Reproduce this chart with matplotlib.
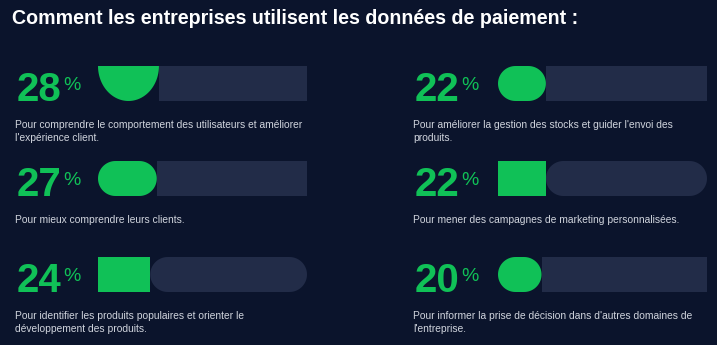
import numpy as np
import matplotlib.pyplot as plt
from matplotlib.patches import Polygon, Rectangle

# share of companies using payment data for each purpose
values = [28, 27, 24, 22, 22, 20]
descriptions = [
    "Pour comprendre le comportement des utilisateurs et améliorer\nl'expérience client.",
    "Pour mieux comprendre leurs clients.",
    "Pour identifier les produits populaires et orienter le\ndéveloppement des produits.",
    "Pour améliorer la gestion des stocks et guider l'envoi des\nproduits.",
    "Pour mener des campagnes de marketing personnalisées.",
    "Pour informer la prise de décision dans d'autres domaines de\nl'entreprise.",
]
# (green shape, track shape) for each row
shapes = [("half", "rect"), ("pill", "rect"), ("rect", "pill"),
          ("pill", "rect"), ("rect", "pill"), ("pill", "rect")]
title = "Comment les entreprises utilisent les données de paiement :"

BG = "#0b142c"
GREEN = "#10c157"
TRACK_COL = "#222c48"
TEXT_COL = "#d0d4dd"

W, H = 717, 345
TRACK = 96          # value at the right end of each bar track
BAR_W, BAR_H = 209, 35
col_x = [98, 498]   # left edge of bars, px
num_x = [17, 415]   # left edge of the big numbers, px
row_top = [66, 161, 257]

fig = plt.figure(figsize=(W / 100, H / 100), dpi=100, facecolor=BG)


def px_box(left, top, w, h):
    return [left / W, 1 - (top + h) / H, w / W, h / H]


def stadium(x0, x1, h, n=40):
    r = h / 2
    t = np.linspace(-np.pi / 2, np.pi / 2, n)
    right = np.column_stack([x1 - r + r * np.cos(t), r + r * np.sin(t)])
    left = np.column_stack([x0 + r - r * np.cos(t), r - r * np.sin(t)])
    return np.vstack([right, left])


def half_disk(x0, x1, h, n=60):
    t = np.linspace(np.pi, 2 * np.pi, n)
    cx, rx = (x0 + x1) / 2, (x1 - x0) / 2
    return np.column_stack([cx + rx * np.cos(t), h + h * np.sin(t)])


def draw_shape(ax, kind, x0, x1, h, color):
    if kind == "rect":
        patch = Rectangle((x0, 0), x1 - x0, h)
    elif kind == "pill":
        patch = Polygon(stadium(x0, x1, h))
    else:
        patch = Polygon(half_disk(x0, x1, h))
    patch.set_facecolor(color)
    patch.set_edgecolor("none")
    patch.set_clip_on(False)
    ax.add_patch(patch)


fig.text(12 / W, 1 - 9 / H, title, color="white", fontsize=14.1, fontweight="bold",
         family="Liberation Sans", va="top", ha="left")

ylim = TRACK * BAR_H / BAR_W
for i, (v, desc, (front, back)) in enumerate(zip(values, descriptions, shapes)):
    col, row = divmod(i, 3)
    top = row_top[row]
    ax = fig.add_axes(px_box(col_x[col], top, BAR_W, BAR_H))
    ax.set_xlim(0, TRACK)
    ax.set_ylim(0, ylim)
    ax.axis("off")
    draw_shape(ax, back, v, TRACK, ylim, TRACK_COL)
    draw_shape(ax, front, 0, v, ylim, GREEN)

    bottom = top + BAR_H
    fig.text(num_x[col] / W, 1 - bottom / H, f"{v}", color=GREEN, fontsize=29,
             fontweight="bold", family="Liberation Sans", va="baseline", ha="left")
    fig.text((num_x[col] + 46) / W, 1 - (bottom - 11) / H, "%", color=GREEN,
             fontsize=14, family="Liberation Sans", va="baseline", ha="left")
    fig.text((num_x[col] - 2) / W, 1 - (bottom + 19) / H, desc, color=TEXT_COL,
             fontsize=7.4, family="Liberation Sans", va="top", ha="left",
             linespacing=1.35)

fig.savefig("out.png", dpi=100, facecolor=BG)
